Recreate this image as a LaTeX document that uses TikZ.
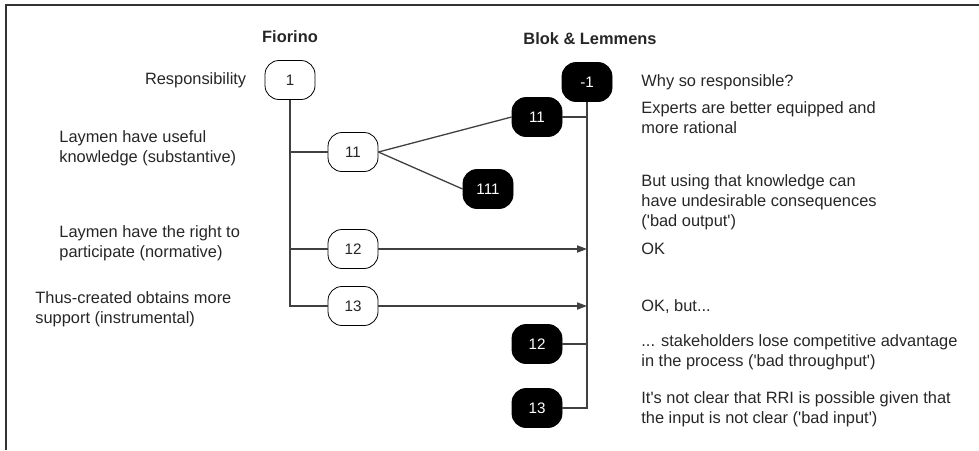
\documentclass[tikz,border=0pt]{standalone}
\usepackage{fontspec}
\setmainfont{Liberation Sans}
\usetikzlibrary{arrows.meta,positioning}
\newcommand{\sq}{\textquotesingle}

\begin{document}
\begin{tikzpicture}[%
    x=0.5pt, y=-0.5pt,            % one unit is one pixel of the reference
    >={Triangle[length=5pt,width=3.6pt]},
    font=\fontsize{8.2}{10}\selectfont,
    ]
% -------------------------------------------------
% A few box styles
\tikzset{
  box/.style={draw, rounded corners=7pt, minimum width=25pt, minimum height=19.5pt,
              inner sep=0pt, font=\fontsize{7.6}{9}\selectfont},
  pro/.style={box, fill=white, text=black!85},
  con/.style={box, fill=black, text=white},
  head/.style={font=\fontsize{8.2}{10}\selectfont\bfseries, text=black!85},
  note/.style={align=left, inner sep=0pt, text=black!85},
  link/.style={draw=black!75, line width=0.65pt},
  feed/.style={link, ->},
}
\useasboundingbox (0,0) rectangle (979,450);
\draw[black!80, line width=1pt] (6,450) -- (6,5) -- (979,5);
% -------------------------------------------------
% Start by placing the nodes

\node [head] (fio) at (290,37) {Fiorino};
\node [head] (blok) at (590,39) {Blok \& Lemmens};

\node [pro] (f1) at (290,80) {1};
\node [pro] (f11) at (353,152) {11};
\node [pro] (f12) at (353,249) {12};
\node [pro] (f13) at (353,306) {13};

\node [con] (bm1) at (587,82) {-1};
\node [con] (b11) at (537,117) {11};
\node [con] (b111) at (488,189) {111};
\node [con] (b12) at (537,344) {12};
\node [con] (b13) at (537,408) {13};

% left column of claims
\node [note, left=9pt of f1] (lresp) {Responsibility};
\node [note, anchor=west] (lknow) at (59,148) {Laymen have useful\\knowledge (substantive)};
\node [note, anchor=west] (lright) at (59,243) {Laymen have the right to\\participate (normative)};
\node [note, anchor=west] (lsupp) at (35,309) {Thus-created obtains more\\support (instrumental)};

% right column of replies
\node [note, anchor=west] (rwhy) at (641,82) {Why so responsible?};
\node [note, anchor=west] (rexp) at (641,118) {Experts are better equipped and\\more rational};
\node [note, anchor=west] (rout) at (641,202) {But using that knowledge can\\have undesirable consequences\\(\sq bad output\sq)};
\node [note, anchor=west] (rok) at (641,249) {OK};
\node [note, anchor=west] (rokb) at (641,307) {OK, but...};
\node [note, anchor=west] (rthr) at (641,352) {... stakeholders lose competitive advantage\\in the process (\sq bad throughput\sq)};
\node [note, anchor=west] (rin) at (641,409) {It\sq s not clear that RRI is possible given that\\the input is not clear (\sq bad input\sq)};

% -------------------------------------------------
% Connectors
\draw[link] (f1) |- (f13);              % Fiorino trunk
\draw[link] (f1 |- f11) -- (f11);        % substantive
\draw[link] (f1 |- f12) -- (f12);        % normative
\draw[link] (f11.east) -- (b11.west);    % 11 answered by 11
\draw[link] (f11.east) -- (b111.west);   % 11 answered by 111
\draw[feed] (f12) -- (f12 -| bm1);       % 12 accepted
\draw[feed] (f13) -- (f13 -| bm1);       % 13 accepted, but
\draw[link] (bm1) |- (b13);              % Blok trunk
\draw[link] (b11) -- (b11 -| bm1);
\draw[link] (b12) -- (b12 -| bm1);

% -------------------------------------------------
\end{tikzpicture}
\end{document}
